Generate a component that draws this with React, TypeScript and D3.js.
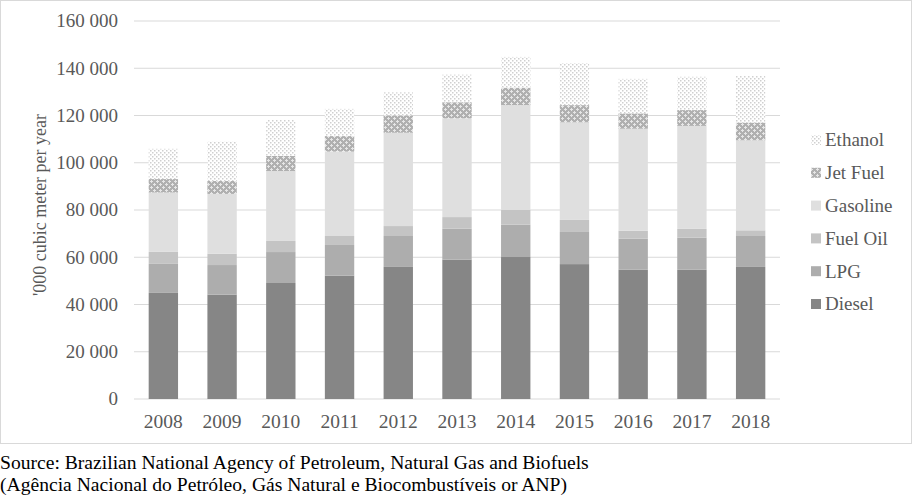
import React from "react";
import * as d3 from "d3";

const years = ["2008", "2009", "2010", "2011", "2012", "2013", "2014", "2015", "2016", "2017", "2018"];
const diesel = [44900, 44200, 49100, 52200, 55900, 59000, 60100, 57100, 54700, 54700, 55900];
const lpg = [12300, 12500, 13100, 13000, 13100, 13100, 13700, 13600, 13200, 13600, 13100];
const fuelOil = [5100, 4800, 4700, 3800, 4200, 4900, 6200, 5100, 3300, 3700, 2400];
const gasoline = [25100, 25300, 29600, 35700, 39500, 41800, 44400, 41300, 43200, 43600, 38100];
const jetFuel = [5700, 5500, 6400, 6600, 7400, 6800, 7400, 7300, 6500, 6700, 7500];
const ethanol = [12800, 16600, 15200, 11500, 9700, 11700, 13000, 17800, 14600, 14100, 19700];
const yTicks = [0, 20000, 40000, 60000, 80000, 100000, 120000, 140000, 160000];

const series = [
  { key: "Diesel", values: diesel, fill: "#868686" },
  { key: "LPG", values: lpg, fill: "#adadad" },
  { key: "Fuel Oil", values: fuelOil, fill: "#c4c4c4" },
  { key: "Gasoline", values: gasoline, fill: "#dfdfdf" },
  { key: "Jet Fuel", values: jetFuel, fill: "url(#jetPat)" },
  { key: "Ethanol", values: ethanol, fill: "url(#ethPat)" },
];

const W = 914;
const H = 496;
const font = "'Liberation Serif', 'Times New Roman', serif";
const textColor = "#595959";

export default function App() {
  const x = d3.scaleBand<string>().domain(years).range([134, 780]).paddingInner(0.5).paddingOuter(0.25);
  const y = d3.scaleLinear().domain([0, 160000]).range([399, 21]);

  const table = years.map((yr, i) => {
    const row: any = { year: yr };
    series.forEach((s) => (row[s.key] = s.values[i]));
    return row;
  });
  const stacked = d3.stack().keys(series.map((s) => s.key))(table);
  const fmt = (v: number) => d3.format(",")(v).replace(/,/g, " ");

  const legendOrder = [...series].reverse();

  return (
    <svg width={W} height={H} style={{ position: "absolute", left: 0, top: 0 }} fontFamily={font}>
      <defs>
        <pattern id="ethPat" width="4" height="4" patternUnits="userSpaceOnUse">
          <rect width="4" height="4" fill="#ffffff" />
          <rect x="0" y="0" width="1.5" height="1.5" fill="#cfcfcf" />
          <rect x="2" y="2" width="1.5" height="1.5" fill="#cfcfcf" />
        </pattern>
        <pattern id="jetPat" width="6" height="6" patternUnits="userSpaceOnUse">
          <rect width="6" height="6" fill="#b0b0b0" />
          <rect x="1" y="0" width="1" height="3" fill="#e6e6e6" />
          <rect x="0" y="1" width="3" height="1" fill="#e6e6e6" />
          <rect x="4" y="3" width="1" height="3" fill="#e6e6e6" />
          <rect x="3" y="4" width="3" height="1" fill="#e6e6e6" />
        </pattern>
      </defs>
      <rect x={0.5} y={0.5} width={911} height={443} fill="#fff" stroke="#d9d9d9" />

      {yTicks.map((t) => (
        <g key={t}>
          <line x1={134} x2={780} y1={y(t)} y2={y(t)} stroke="#d9d9d9" strokeWidth={1} />
          <text x={118} y={y(t)} dy="0.34em" textAnchor="end" fontSize={19} fill={textColor}>
            {fmt(t)}
          </text>
        </g>
      ))}

      {stacked.map((layer, li) => (
        <g key={layer.key} fill={series[li].fill}>
          {layer.map((d, i) => (
            <rect
              key={i}
              x={x(years[i])}
              y={y(d[1])}
              width={x.bandwidth()}
              height={y(d[0]) - y(d[1])}
            />
          ))}
        </g>
      ))}

      {years.map((yr) => (
        <text key={yr} x={(x(yr) || 0) + x.bandwidth() / 2} y={428} textAnchor="middle" fontSize={19.5} fill={textColor}>
          {yr}
        </text>
      ))}

      <text transform="translate(46,205) rotate(-90)" textAnchor="middle" fontSize={18} fill={textColor}>
        '000 cubic meter per year
      </text>

      {legendOrder.map((s, i) => {
        const ly = 140 + i * 32.8;
        return (
          <g key={s.key}>
            <rect x={811} y={ly - 5} width={10} height={10} fill={s.fill} />
            <text x={825} y={ly} dy="0.34em" fontSize={19} fill={textColor}>
              {s.key}
            </text>
          </g>
        );
      })}

      <text x={0} y={469} fontSize={19.6} fill="#000">
        Source: Brazilian National Agency of Petroleum, Natural Gas and Biofuels
      </text>
      <text x={0} y={491} fontSize={19.6} fill="#000">
        (Agência Nacional do Petróleo, Gás Natural e Biocombustíveis or ANP)
      </text>
    </svg>
  );
}
